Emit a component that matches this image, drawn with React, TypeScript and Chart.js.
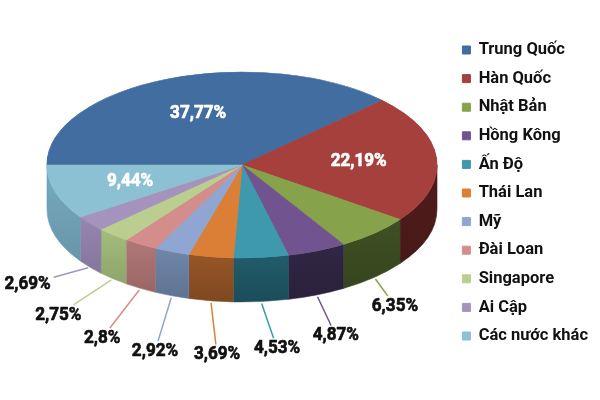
import React, { useEffect, useRef } from 'react';
import { Chart, registerables } from 'chart.js';

Chart.register(...registerables);

// ---- data ----
const categories = [
  'Trung Quốc',
  'Hàn Quốc',
  'Nhật Bản',
  'Hồng Kông',
  'Ấn Độ',
  'Thái Lan',
  'Mỹ',
  'Đài Loan',
  'Singapore',
  'Ai Cập',
  'Các nước khác',
];
const shares = [37.77, 22.19, 6.35, 4.87, 4.53, 3.69, 2.92, 2.8, 2.75, 2.69, 9.44];

// ---- styles ----
const topColors = [
  '#426DA1', '#A6403D', '#86A34B', '#71548F', '#3E98AE', '#DB7F37',
  '#8EA6D1', '#D38E8C', '#BACF8F', '#A593BE', '#8CC0D3',
];
const sideColors = [
  '#27415F', '#4B1A19', '#3A4A20', '#2D2440', '#1F5563', '#8C5024',
  '#687D9E', '#A46E6E', '#97AE72', '#8B7BA3', '#6D9DB2',
];
const FONT = 'Roboto, "Liberation Sans", Arial, sans-serif';

// geometry of the tilted pie (top ellipse + wall depth)
const GEO = { cx: 242, cy: 165, rx: 195, ry: 93, depth: 44, lrx: 220, lry: 148 };

const fmt = (v: number) => String(v).replace('.', ',') + '%';

function shade(hex: string, f: number) {
  const n = parseInt(hex.slice(1), 16);
  const r = Math.min(255, Math.round(((n >> 16) & 255) * f));
  const g = Math.min(255, Math.round(((n >> 8) & 255) * f));
  const b = Math.min(255, Math.round((n & 255) * f));
  return `rgb(${r},${g},${b})`;
}

function condensedText(ctx: CanvasRenderingContext2D, text: string, x: number, y: number, sx: number, color: string) {
  ctx.save();
  ctx.translate(x, y);
  ctx.scale(sx, 1);
  ctx.fillStyle = color;
  ctx.strokeStyle = color;
  ctx.lineWidth = 0.7;
  ctx.lineJoin = 'round';
  ctx.fillText(text, 0, 0);
  ctx.strokeText(text, 0, 0);
  ctx.restore();
}

const pie3d = {
  id: 'pie3d',
  beforeDatasetsDraw(chart: any) {
    const ctx = chart.ctx as CanvasRenderingContext2D;
    const meta = chart.getDatasetMeta(0);
    const { cx, cy, rx, ry, depth } = GEO;
    // side walls (front half only)
    meta.data.forEach((arc: any, i: number) => {
      const ranges = [
        [arc.startAngle, arc.endAngle],
        [arc.startAngle + 2 * Math.PI, arc.endAngle + 2 * Math.PI],
      ];
      ranges.forEach(([a, b]) => {
        const lo = Math.max(a, 0);
        const hi = Math.min(b, Math.PI);
        if (hi <= lo) return;
        const yTop = cy + ry * Math.min(Math.sin(lo), Math.sin(hi));
        const grad = ctx.createLinearGradient(0, yTop, 0, cy + ry + depth);
        grad.addColorStop(0, shade(sideColors[i], 1.08));
        grad.addColorStop(1, shade(sideColors[i], 0.9));
        ctx.save();
        ctx.beginPath();
        ctx.ellipse(cx, cy, rx, ry, 0, lo, hi, false);
        ctx.lineTo(cx + rx * Math.cos(hi), cy + depth + ry * Math.sin(hi));
        ctx.ellipse(cx, cy + depth, rx, ry, 0, hi, lo, true);
        ctx.closePath();
        ctx.fillStyle = grad;
        ctx.fill();
        ctx.strokeStyle = sideColors[i];
        ctx.lineWidth = 0.6;
        ctx.stroke();
        ctx.restore();
      });
    });
    // top face: library arcs mapped onto the ellipse
    const a0 = meta.data[0];
    ctx.save();
    ctx.translate(cx, cy);
    ctx.scale(rx / a0.outerRadius, ry / a0.outerRadius);
    ctx.translate(-a0.x, -a0.y);
    meta.controller.draw();
    ctx.restore();
    return false;
  },
  afterDraw(chart: any) {
    const ctx = chart.ctx as CanvasRenderingContext2D;
    const meta = chart.getDatasetMeta(0);
    const { cx, cy, rx, ry, depth, lrx, lry } = GEO;
    const sx = 0.9;
    ctx.save();
    ctx.textAlign = 'center';
    ctx.textBaseline = 'middle';
    ctx.font = `bold 19px ${FONT}`;
    meta.data.forEach((arc: any, i: number) => {
      const v = shares[i];
      const mid = (arc.startAngle + arc.endAngle) / 2;
      const text = fmt(v);
      if (v > 9) {
        const r = 0.6;
        const x = cx + r * rx * Math.cos(mid);
        const y = cy + r * ry * Math.sin(mid);
        condensedText(ctx, text, x, y, sx, '#ffffff');
      } else {
        const ax = cx + rx * Math.cos(mid);
        const ay = cy + depth + ry * Math.sin(mid);
        const deg = (mid * 180) / Math.PI;
        const ldeg = deg - 4 + Math.max(0, deg - 95) * 0.33;
        const mag = Math.min(1.1, 0.955 + Math.max(0, ldeg - 85) * 0.003);
        const la = (ldeg * Math.PI) / 180;
        const lx = cx + mag * lrx * Math.cos(la);
        const ly = cy + depth + mag * lry * Math.sin(la);
        const dx = lx - ax;
        const dy = ly - ay;
        const len = Math.hypot(dx, dy);
        const ux = dx / len;
        const uy = dy / len;
        const hw = (ctx.measureText(text).width * sx) / 2 + 3;
        const hh = 10;
        const s = Math.min(hw / Math.max(Math.abs(ux), 1e-6), hh / Math.max(Math.abs(uy), 1e-6));
        ctx.strokeStyle = topColors[i];
        ctx.lineWidth = 1.5;
        ctx.beginPath();
        ctx.moveTo(ax + ux * 2, ay + uy * 2);
        ctx.lineTo(lx - ux * s, ly - uy * s);
        ctx.stroke();
        condensedText(ctx, text, lx, ly, sx, '#111111');
      }
    });
    ctx.restore();
  },
};

export default function App() {
  const ref = useRef<HTMLCanvasElement | null>(null);
  useEffect(() => {
    document.body.style.margin = '0';
    const canvas = ref.current;
    if (!canvas) return;
    const chart = new Chart(canvas, {
      type: 'pie',
      data: {
        labels: categories,
        datasets: [
          {
            data: shares,
            backgroundColor: topColors,
            borderColor: topColors,
            borderWidth: 1,
            clip: false as any,
          },
        ],
      },
      options: {
        animation: false,
        responsive: true,
        maintainAspectRatio: false,
        rotation: -90,
        events: [],
        layout: { padding: { right: 2, bottom: 14 } },
        plugins: {
          tooltip: { enabled: false },
          legend: {
            position: 'right',
            align: 'center',
            labels: {
              boxWidth: 8,
              boxHeight: 8,
              padding: 12.1,
              color: '#111111',
              font: { family: FONT, size: 16.5, weight: 'bold' },
            },
          },
        },
      },
      plugins: [pie3d],
    });
    return () => chart.destroy();
  }, []);
  return (
    <div style={{ position: 'relative', width: 600, height: 400, background: '#ffffff' }}>
      <canvas ref={ref} />
    </div>
  );
}
